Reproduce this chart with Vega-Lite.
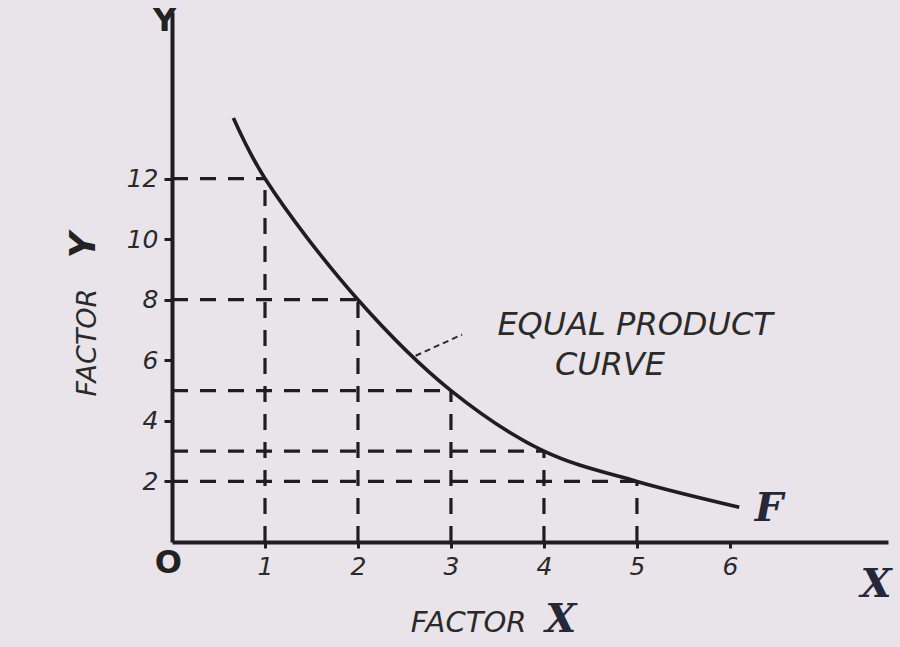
{
  "$schema": "https://vega.github.io/schema/vega-lite/v6.json",
  "width": 716,
  "height": 530,
  "autosize": "none",
  "padding": {"left": 172, "top": 12, "right": 12, "bottom": 105},
  "background": "#e9e4e9",
  "config": {
    "view": {"stroke": null},
    "axis": {
      "grid": false,
      "domainColor": "#1e1e1e",
      "domainWidth": 4,
      "tickColor": "#1e1e1e",
      "tickWidth": 3,
      "labelFont": "DejaVu Sans",
      "labelFontStyle": "italic",
      "labelFontSize": 25,
      "labelColor": "#2a2a2a",
      "titleFont": "DejaVu Sans",
      "titleFontStyle": "italic",
      "titleFontWeight": "normal",
      "titleColor": "#2a2a2a"
    }
  },
  "datasets": {
    "curve": [
      {"x": 0.66, "y": 14.0},
      {"x": 1, "y": 12},
      {"x": 2, "y": 8},
      {"x": 3, "y": 5},
      {"x": 4, "y": 3},
      {"x": 5, "y": 2},
      {"x": 6.1, "y": 1.15}
    ],
    "points": [
      {"x": 1, "y": 12, "x0": 0, "y0": 0},
      {"x": 2, "y": 8, "x0": 0, "y0": 0},
      {"x": 3, "y": 5, "x0": 0, "y0": 0},
      {"x": 4, "y": 3, "x0": 0, "y0": 0},
      {"x": 5, "y": 2, "x0": 0, "y0": 0}
    ]
  },
  "layer": [
    {
      "data": {"name": "curve"},
      "mark": {"type": "line", "interpolate": "catmull-rom", "color": "#1e1e1e", "strokeWidth": 3.6},
      "encoding": {
        "x": {
          "field": "x", "type": "quantitative",
          "scale": {"domain": [0, 7.7], "nice": false, "zero": true},
          "axis": {
            "values": [1, 2, 3, 4, 5, 6],
            "format": "d",
            "tickSize": 6,
            "labelPadding": 6,
            "title": "FACTOR",
            "titleFontSize": 29,
            "titleX": 296,
            "titleY": 80,
            "titleBaseline": "middle",
            "titleAlign": "center"
          }
        },
        "y": {
          "field": "y", "type": "quantitative",
          "scale": {"domain": [0, 17.5], "nice": false, "zero": true},
          "axis": {
            "values": [2, 4, 6, 8, 10, 12],
            "format": "d",
            "tickSize": 8,
            "labelPadding": 6,
            "title": "FACTOR",
            "titleFontSize": 27,
            "titleX": -85,
            "titleY": 330,
            "titleBaseline": "middle",
            "titleAlign": "center"
          }
        }
      }
    },
    {
      "data": {"name": "points"},
      "mark": {"type": "rule", "color": "#1e1e1e", "strokeWidth": 3.2, "strokeDash": [16, 12]},
      "encoding": {
        "x": {"field": "x0", "type": "quantitative", "scale": {"domain": [0, 7.7], "nice": false}},
        "x2": {"field": "x"},
        "y": {"field": "y", "type": "quantitative", "scale": {"domain": [0, 17.5], "nice": false}}
      }
    },
    {
      "data": {"name": "points"},
      "mark": {"type": "rule", "color": "#1e1e1e", "strokeWidth": 3.2, "strokeDash": [16, 12]},
      "encoding": {
        "x": {"field": "x", "type": "quantitative", "scale": {"domain": [0, 7.7], "nice": false}},
        "y": {"field": "y0", "type": "quantitative", "scale": {"domain": [0, 17.5], "nice": false}},
        "y2": {"field": "y"}
      }
    },
    {
      "data": {"values": [{"x": 2.62, "y": 6.15, "x2": 3.12, "y2": 6.85}]},
      "mark": {"type": "rule", "color": "#2a2a2a", "strokeWidth": 2, "strokeDash": [6, 4]},
      "encoding": {
        "x": {"field": "x", "type": "quantitative", "scale": {"domain": [0, 7.7], "nice": false}},
        "x2": {"field": "x2"},
        "y": {"field": "y", "type": "quantitative", "scale": {"domain": [0, 17.5], "nice": false}},
        "y2": {"field": "y2"}
      }
    },
    {
      "data": {"values": [
        {"text": "EQUAL PRODUCT", "x": 4.98, "y": 7.15},
        {"text": "CURVE", "x": 4.71, "y": 5.85}
      ]},
      "mark": {"type": "text", "font": "DejaVu Sans", "fontStyle": "italic", "fontSize": 32, "color": "#2a2a2a", "baseline": "middle", "align": "center"},
      "encoding": {
        "x": {"field": "x", "type": "quantitative", "scale": {"domain": [0, 7.7], "nice": false}},
        "y": {"field": "y", "type": "quantitative", "scale": {"domain": [0, 17.5], "nice": false}},
        "text": {"field": "text"}
      }
    },
    {
      "data": {"values": [
        {"text": "F", "x": 6.42, "y": 1.09},
        {"text": "X", "x": 7.57, "y": -1.42},
        {"text": "X", "x": 4.18, "y": -2.57}
      ]},
      "mark": {"type": "text", "font": "DejaVu Serif", "fontStyle": "italic", "fontWeight": "bold", "fontSize": 40, "color": "#252838", "baseline": "middle", "align": "center"},
      "encoding": {
        "x": {"field": "x", "type": "quantitative", "scale": {"domain": [0, 7.7], "nice": false}},
        "y": {"field": "y", "type": "quantitative", "scale": {"domain": [0, 17.5], "nice": false}},
        "text": {"field": "text"}
      }
    },
    {
      "data": {"values": [
        {"text": "Y", "x": -0.08, "y": 17.2},
        {"text": "O", "x": -0.04, "y": -0.69}
      ]},
      "mark": {"type": "text", "font": "DejaVu Sans", "fontWeight": "bold", "fontSize": 32, "color": "#222222", "baseline": "middle", "align": "center"},
      "encoding": {
        "x": {"field": "x", "type": "quantitative", "scale": {"domain": [0, 7.7], "nice": false}},
        "y": {"field": "y", "type": "quantitative", "scale": {"domain": [0, 17.5], "nice": false}},
        "text": {"field": "text"}
      }
    },
    {
      "data": {"values": [{"text": "Y", "x": -0.95, "y": 9.8}]},
      "mark": {"type": "text", "font": "DejaVu Sans", "fontWeight": "bold", "fontStyle": "italic", "fontSize": 36, "angle": 270, "color": "#222222", "baseline": "middle", "align": "center"},
      "encoding": {
        "x": {"field": "x", "type": "quantitative", "scale": {"domain": [0, 7.7], "nice": false}},
        "y": {"field": "y", "type": "quantitative", "scale": {"domain": [0, 17.5], "nice": false}},
        "text": {"field": "text"}
      }
    }
  ]
}
